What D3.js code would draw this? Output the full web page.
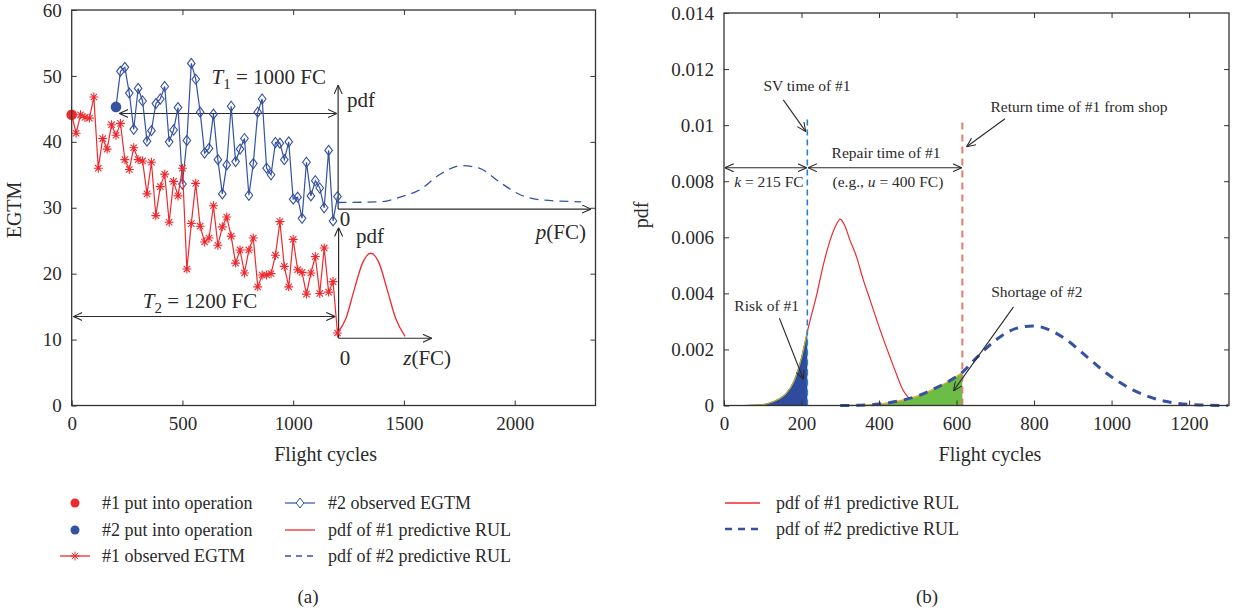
<!DOCTYPE html>
<html>
<head>
    <meta charset="utf-8">
    <script src="https://cdn.jsdelivr.net/npm/d3@7/dist/d3.min.js"></script>
    <style>
        body { margin: 0; background: #fff; }
        text { font-family: "Liberation Serif", "DejaVu Serif", serif; fill: #2a2a2a; }
    </style>
</head>
<body>
    <svg width="1236" height="612"></svg>
    <script>
        // ---- panel (a) data ----
        var cycles1 = [0, 20, 40, 60, 80, 100, 120, 140, 160, 180, 200, 220, 240, 260, 280, 300, 320, 340, 360, 380,
            400, 420, 440, 460, 480, 500, 520, 540, 560, 580, 600, 620, 640, 660, 680, 700, 720, 740, 760, 780,
            800, 820, 840, 860, 880, 900, 920, 940, 960, 980, 1000, 1020, 1040, 1060, 1080, 1100, 1120, 1140, 1160, 1180, 1200];
        var egtm1 = [44.1, 41.3, 44.1, 43.7, 43.6, 46.8, 36.0, 40.5, 38.9, 42.6, 41.0, 42.8, 37.3, 35.8, 39.1, 37.3, 37.1, 32.1, 36.9, 28.8,
            33.2, 35.1, 27.8, 34.0, 31.8, 36.0, 20.7, 27.6, 33.7, 27.2, 24.8, 25.4, 30.3, 24.3, 27.1, 28.6, 25.7, 21.6, 23.6, 20.1,
            23.6, 25.4, 18.0, 19.8, 19.8, 20.0, 22.8, 27.9, 21.1, 18.0, 25.2, 20.6, 20.2, 16.9, 20.1, 22.6, 17.0, 23.9, 17.2, 18.8, 11.0];
        var cycles2 = [200, 220, 240, 260, 280, 300, 320, 340, 360, 380, 400, 420, 440, 460, 480, 500, 520, 540, 560, 580,
            600, 620, 640, 660, 680, 700, 720, 740, 760, 780, 800, 820, 840, 860, 880, 900, 920, 940, 960, 980,
            1000, 1020, 1040, 1060, 1080, 1100, 1120, 1140, 1160, 1180, 1200];
        var egtm2 = [45.3, 50.7, 51.3, 47.4, 41.9, 48.1, 46.2, 40.1, 41.7, 45.8, 46.5, 48.4, 40.0, 41.8, 45.2, 33.6, 40.2, 51.9, 49.5, 44.5,
            38.3, 39.0, 44.2, 37.3, 32.1, 36.5, 45.4, 37.0, 38.9, 40.5, 31.9, 36.7, 44.5, 46.5, 36.0, 35.0, 39.9, 39.8, 37.3, 40.0,
            31.3, 31.6, 28.4, 36.9, 31.8, 34.1, 33.0, 30.0, 38.7, 28.0, 31.7];
        // schematic inset pdfs, drawn in panel (a) coordinates
        var insetP_x = [1200, 1390, 1490, 1570, 1660, 1760, 1840, 1940, 2030, 2120, 2300];
        var insetP_y = [30.8, 30.9, 31.7, 32.7, 35.0, 36.4, 36.0, 33.7, 31.9, 31.2, 30.9];
        var insetZ_x = [1200, 1238, 1275, 1313, 1350, 1388, 1425, 1463, 1505];
        var insetZ_y = [11.0, 13.2, 17.5, 21.6, 23.1, 21.6, 17.5, 13.2, 10.5];
        var xTicksA = [0, 500, 1000, 1500, 2000];
        var yTicksA = [0, 10, 20, 30, 40, 50, 60];
        var legendA = ["#1 put into operation", "#2 put into operation", "#1 observed EGTM",
            "#2 observed EGTM", "pdf of #1 predictive RUL", "pdf of #2 predictive RUL"];

        // ---- panel (b) data ----
        var pdf1_x = [50, 80, 100, 120, 140, 160, 180, 200, 215, 240, 256, 274, 288, 300, 312, 325, 342, 359, 377, 403,
            428, 446, 460, 475, 490, 510, 530];
        var pdf1_y = [0, 0.00001, 0.00003, 0.0001, 0.00022, 0.00042, 0.00085, 0.0017, 0.00263, 0.004, 0.005, 0.0059, 0.0064,
            0.00665, 0.0064, 0.0059, 0.0053, 0.0045, 0.00376, 0.00269, 0.00174, 0.00108, 0.0006, 0.0003, 0.00012, 0.00003, 0];
        var pdf2_x = [300, 350, 400, 450, 500, 543, 594, 617, 650, 702, 754, 798, 841, 884, 936, 987, 1056, 1142, 1228, 1300];
        var pdf2_y = [0, 0.00001, 0.00005, 0.00016, 0.00034, 0.0006, 0.00098, 0.00121, 0.00168, 0.00234, 0.00275, 0.00284,
            0.00269, 0.00234, 0.00174, 0.00115, 0.00055, 0.00014, 0.00002, 0];
        var svTime = 215, returnTime = 615, lineTop = 0.0102;
        var xTicksB = [0, 200, 400, 600, 800, 1000, 1200];
        var yTicksB = [0, 0.002, 0.004, 0.006, 0.008, 0.01, 0.012, 0.014];
        var yTickLabelsB = ["0", "0.002", "0.004", "0.006", "0.008", "0.01", "0.012", "0.014"];
        var legendB = ["pdf of #1 predictive RUL", "pdf of #2 predictive RUL"];

        var red = "#ee2a2e", blue = "#3451a2", ink = "#2a2a2a";

        var svg = d3.select("svg");
        var defs = svg.append("defs");
        defs.append("marker").attr("id", "arr")
            .attr("viewBox", "0 0 10 10").attr("refX", 10).attr("refY", 5)
            .attr("markerWidth", 9).attr("markerHeight", 9)
            .attr("markerUnits", "userSpaceOnUse").attr("orient", "auto-start-reverse")
            .append("path").attr("d", "M0,0.5L10,5L0,9.5")
            .attr("fill", "none").attr("stroke", ink).attr("stroke-width", 1.2);

        var xA = d3.scaleLinear().domain([0, 2365]).range([71.7, 595.5]);
        var yA = d3.scaleLinear().domain([0, 60]).range([405.5, 10]);
        var xB = d3.scaleLinear().domain([0, 1303]).range([724, 1229]);
        var yB = d3.scaleLinear().domain([0, 0.014]).range([405.5, 13]);

        function styleAxis(g, size) {
            g.select(".domain").remove();
            g.selectAll("line").attr("stroke", "#333").attr("stroke-width", 1);
            g.selectAll("text").attr("font-size", size).attr("fill", ink)
                .attr("font-family", '"Liberation Serif", serif');
        }

        function drawFrame(x, y, xt, yt, yFmt) {
            var g = svg.append("g");
            var x0 = x.range()[0], x1 = x.range()[1], y0 = y.range()[0], y1 = y.range()[1];
            g.append("g").attr("transform", "translate(0," + y0 + ")")
                .call(d3.axisBottom(x).tickValues(xt).tickSize(-5).tickSizeOuter(0).tickPadding(11).tickFormat(d3.format("d")))
                .call(styleAxis, 19);
            g.append("g").attr("transform", "translate(" + x0 + ",0)")
                .call(d3.axisLeft(y).tickValues(yt).tickSize(-5).tickSizeOuter(0).tickPadding(10).tickFormat(yFmt))
                .call(styleAxis, 19);
            g.append("g").attr("transform", "translate(0," + y1 + ")")
                .call(d3.axisTop(x).tickValues(xt.slice(1)).tickSize(-5).tickSizeOuter(0).tickFormat(""))
                .call(styleAxis, 19);
            g.append("g").attr("transform", "translate(" + x1 + ",0)")
                .call(d3.axisRight(y).tickValues(yt.slice(1, -1)).tickSize(-5).tickSizeOuter(0).tickFormat(""))
                .call(styleAxis, 19);
            g.append("rect").attr("x", x0).attr("y", y1).attr("width", x1 - x0).attr("height", y0 - y1)
                .attr("fill", "none").attr("stroke", "#333").attr("stroke-width", 1.3);
        }

        function arrow(g, pts, both, w) {
            var p = g.append("line")
                .attr("x1", pts[0]).attr("y1", pts[1]).attr("x2", pts[2]).attr("y2", pts[3])
                .attr("stroke", ink).attr("stroke-width", w || 1.2)
                .attr("marker-end", "url(#arr)");
            if (both) p.attr("marker-start", "url(#arr)");
            return p;
        }

        var starPath = "M-4.5,0L4.5,0M0,-4.5L0,4.5M-3.2,-3.2L3.2,3.2M-3.2,3.2L3.2,-3.2";
        var diamondPath = "M0,-5L3.8,0L0,5L-3.8,0Z";

        // ================= panel (a) =================
        var gA = svg.append("g");
        var lineA = d3.line().x(d => xA(d[0])).y(d => yA(d[1]));
        var s1 = cycles1.map((c, i) => [c, egtm1[i]]);
        var s2 = cycles2.map((c, i) => [c, egtm2[i]]);

        // inset axes
        arrow(gA, [xA(1203), yA(29.8), xA(1203), yA(48.6)]);
        arrow(gA, [xA(1203), yA(29.8), xA(2345), yA(29.8)]);
        arrow(gA, [xA(1205), yA(10.2), xA(1205), yA(27.0)]);
        arrow(gA, [xA(1205), yA(10.2), xA(1625), yA(10.2)]);
        // T1 and T2 spans
        arrow(gA, [xA(215), yA(44.3), xA(1198), yA(44.3)], true);
        arrow(gA, [xA(8), yA(13.5), xA(1190), yA(13.5)], true);

        gA.append("path").datum(insetP_x.map((c, i) => [c, insetP_y[i]]))
            .attr("d", lineA.curve(d3.curveMonotoneX)).attr("fill", "none")
            .attr("stroke", blue).attr("stroke-width", 1.3).attr("stroke-dasharray", "9,6");
        gA.append("path").datum(insetZ_x.map((c, i) => [c, insetZ_y[i]]))
            .attr("d", lineA.curve(d3.curveMonotoneX)).attr("fill", "none")
            .attr("stroke", red).attr("stroke-width", 1.3);
        lineA.curve(d3.curveLinear);

        gA.append("path").datum(s2).attr("d", lineA).attr("fill", "none")
            .attr("stroke", blue).attr("stroke-width", 1.2);
        gA.selectAll(".dia").data(s2.slice(1)).enter().append("path")
            .attr("d", diamondPath).attr("transform", d => "translate(" + xA(d[0]) + "," + yA(d[1]) + ")")
            .attr("fill", "none").attr("stroke", blue).attr("stroke-width", 1.1);
        gA.append("path").datum(s1).attr("d", lineA).attr("fill", "none")
            .attr("stroke", red).attr("stroke-width", 1.2);
        gA.selectAll(".star").data(s1.slice(1)).enter().append("path")
            .attr("d", starPath).attr("transform", d => "translate(" + xA(d[0]) + "," + yA(d[1]) + ")")
            .attr("fill", "none").attr("stroke", red).attr("stroke-width", 1.1);
        gA.append("circle").attr("cx", xA(s1[0][0])).attr("cy", yA(s1[0][1])).attr("r", 5.3).attr("fill", red);
        gA.append("circle").attr("cx", xA(s2[0][0])).attr("cy", yA(s2[0][1])).attr("r", 5.3).attr("fill", blue);

        drawFrame(xA, yA, xTicksA, yTicksA, d3.format("d"));

        // panel (a) labels
        var t1 = gA.append("text").attr("x", xA(631)).attr("y", yA(48.8)).attr("font-size", 21);
        t1.append("tspan").attr("font-style", "italic").text("T");
        t1.append("tspan").attr("font-size", 15).attr("dy", 5).text("1");
        t1.append("tspan").attr("dy", -5).text(" = 1000 FC");
        var t2 = gA.append("text").attr("x", xA(321)).attr("y", yA(14.8)).attr("font-size", 21);
        t2.append("tspan").attr("font-style", "italic").text("T");
        t2.append("tspan").attr("font-size", 15).attr("dy", 5).text("2");
        t2.append("tspan").attr("dy", -5).text(" = 1200 FC");
        gA.append("text").attr("x", xA(1243)).attr("y", yA(45.3)).attr("font-size", 21).text("pdf");
        gA.append("text").attr("x", xA(1284)).attr("y", yA(24.6)).attr("font-size", 21).text("pdf");
        gA.append("text").attr("x", xA(1210)).attr("y", yA(27.3)).attr("font-size", 21).text("0");
        gA.append("text").attr("x", xA(1210)).attr("y", yA(6.2)).attr("font-size", 21).text("0");
        var pl = gA.append("text").attr("x", xA(2322)).attr("y", yA(25.3)).attr("font-size", 21).attr("text-anchor", "end");
        pl.append("tspan").attr("font-style", "italic").text("p");
        pl.append("tspan").text("(FC)");
        var zl = gA.append("text").attr("x", xA(1497)).attr("y", yA(6.2)).attr("font-size", 21);
        zl.append("tspan").attr("font-style", "italic").text("z");
        zl.append("tspan").text("(FC)");

        svg.append("text").attr("x", (xA.range()[0] + xA.range()[1]) / 2 - 8).attr("y", 461)
            .attr("text-anchor", "middle").attr("font-size", 20).text("Flight cycles");
        svg.append("text").attr("transform", "translate(21,210) rotate(-90)")
            .attr("text-anchor", "middle").attr("font-size", 20).text("EGTM");

        // legend (a)
        var legA = svg.append("g").attr("font-size", 18);
        var rowsA = [503, 530, 556];
        legA.append("circle").attr("cx", 75).attr("cy", rowsA[0]).attr("r", 4.5).attr("fill", red);
        legA.append("circle").attr("cx", 75).attr("cy", rowsA[1]).attr("r", 4.5).attr("fill", blue);
        legA.append("line").attr("x1", 60).attr("x2", 90).attr("y1", rowsA[2]).attr("y2", rowsA[2])
            .attr("stroke", red).attr("stroke-width", 1.3);
        legA.append("path").attr("d", starPath).attr("transform", "translate(75," + rowsA[2] + ")")
            .attr("stroke", red).attr("fill", "none");
        legA.append("line").attr("x1", 285).attr("x2", 315).attr("y1", rowsA[0]).attr("y2", rowsA[0])
            .attr("stroke", blue).attr("stroke-width", 1.2);
        legA.append("path").attr("d", diamondPath).attr("transform", "translate(300," + rowsA[0] + ")")
            .attr("stroke", blue).attr("fill", "#fff");
        legA.append("line").attr("x1", 285).attr("x2", 315).attr("y1", rowsA[1]).attr("y2", rowsA[1])
            .attr("stroke", red).attr("stroke-width", 1.3);
        legA.append("line").attr("x1", 285).attr("x2", 315).attr("y1", rowsA[2]).attr("y2", rowsA[2])
            .attr("stroke", blue).attr("stroke-width", 1.3).attr("stroke-dasharray", "6,5");
        legendA.forEach(function (t, i) {
            legA.append("text").attr("x", i < 3 ? 102 : 328).attr("y", rowsA[i % 3]).attr("dy", "0.33em").text(t);
        });
        svg.append("text").attr("x", 308).attr("y", 603).attr("text-anchor", "middle").attr("font-size", 19).text("(a)");

        // ================= panel (b) =================
        var gB = svg.append("g");
        var lineB = d3.line().x(d => xB(d[0])).y(d => yB(d[1])).curve(d3.curveMonotoneX);
        var areaB = d3.area().x(d => xB(d[0])).y0(yB(0)).y1(d => yB(d[1])).curve(d3.curveMonotoneX);
        var p1 = pdf1_x.map((c, i) => [c, pdf1_y[i]]);
        var p2 = pdf2_x.map((c, i) => [c, pdf2_y[i]]);

        defs.append("clipPath").attr("id", "clipRisk").append("rect")
            .attr("x", xB(0)).attr("y", yB(0.014)).attr("width", xB(svTime) - xB(0)).attr("height", yB(0) - yB(0.014));
        defs.append("clipPath").attr("id", "clipShort").append("rect")
            .attr("x", xB(0)).attr("y", yB(0.014)).attr("width", xB(returnTime) - xB(0)).attr("height", yB(0) - yB(0.014));

        gB.append("path").datum(p1).attr("d", lineB).attr("fill", "none").attr("stroke", red).attr("stroke-width", 1.2);
        gB.append("path").datum(p1).attr("d", areaB).attr("clip-path", "url(#clipRisk)").attr("fill", "#2f4b9e");
        gB.append("path").datum(p1).attr("d", lineB).attr("clip-path", "url(#clipRisk)")
            .attr("fill", "none").attr("stroke", "#9db844").attr("stroke-width", 1.2);
        gB.append("path").datum(p2).attr("d", areaB).attr("clip-path", "url(#clipShort)").attr("fill", "#6cbd45");
        gB.append("path").datum(p2).attr("d", lineB).attr("clip-path", "url(#clipShort)")
            .attr("fill", "none").attr("stroke", "#eaa834").attr("stroke-width", 1.4);
        gB.append("path").datum(p2).attr("d", lineB).attr("fill", "none")
            .attr("stroke", blue).attr("stroke-width", 3).attr("stroke-dasharray", "9,7");

        gB.append("line").attr("x1", xB(svTime)).attr("x2", xB(svTime)).attr("y1", yB(0)).attr("y2", yB(lineTop))
            .attr("stroke", "#2b80c8").attr("stroke-width", 1.6).attr("stroke-dasharray", "6,4");
        gB.append("line").attr("x1", xB(returnTime)).attr("x2", xB(returnTime)).attr("y1", yB(0)).attr("y2", yB(lineTop))
            .attr("stroke", "#e0806a").attr("stroke-width", 2).attr("stroke-dasharray", "7,5");

        drawFrame(xB, yB, xTicksB, yTicksB, (d, i) => yTickLabelsB[i]);

        // span arrows and annotations
        arrow(gB, [xB(2), yB(0.00848), xB(svTime - 2), yB(0.00848)], true);
        arrow(gB, [xB(svTime + 2), yB(0.00848), xB(returnTime - 2), yB(0.00848)], true);
        arrow(gB, [xB(153), yB(0.0109), xB(211), yB(0.00977)], false, 1.1);
        arrow(gB, [xB(725), yB(0.01023), xB(626), yB(0.00923)], false, 1.1);
        arrow(gB, [xB(143), yB(0.00311), xB(205), yB(0.00093)], false, 1.1);
        arrow(gB, [xB(747), yB(0.00352), xB(592), yB(0.00052)], false, 1.1);

        var fsB = 15.5;
        gB.append("text").attr("x", xB(214)).attr("y", yB(0.01122)).attr("text-anchor", "middle").attr("font-size", fsB).text("SV time of #1");
        gB.append("text").attr("x", xB(916)).attr("y", yB(0.01048)).attr("text-anchor", "middle").attr("font-size", fsB).text("Return time of #1 from shop");
        gB.append("text").attr("x", xB(418)).attr("y", yB(0.00882)).attr("text-anchor", "middle").attr("font-size", fsB).text("Repair time of #1");
        var kl = gB.append("text").attr("x", xB(116)).attr("y", yB(0.0078)).attr("text-anchor", "middle").attr("font-size", fsB);
        kl.append("tspan").attr("font-style", "italic").text("k");
        kl.append("tspan").text(" = 215 FC");
        var ul = gB.append("text").attr("x", xB(423)).attr("y", yB(0.0078)).attr("text-anchor", "middle").attr("font-size", fsB);
        ul.append("tspan").text("(e.g., ");
        ul.append("tspan").attr("font-style", "italic").text("u");
        ul.append("tspan").text(" = 400 FC)");
        gB.append("text").attr("x", xB(110)).attr("y", yB(0.00337)).attr("text-anchor", "middle").attr("font-size", fsB).text("Risk of #1");
        gB.append("text").attr("x", xB(807)).attr("y", yB(0.00388)).attr("text-anchor", "middle").attr("font-size", fsB).text("Shortage of #2");

        svg.append("text").attr("x", 990).attr("y", 461).attr("text-anchor", "middle").attr("font-size", 20).text("Flight cycles");
        svg.append("text").attr("transform", "translate(648,215) rotate(-90)")
            .attr("text-anchor", "middle").attr("font-size", 20).text("pdf");

        // legend (b)
        var legB = svg.append("g").attr("font-size", 18);
        var rowsB = [503, 529];
        legB.append("line").attr("x1", 725).attr("x2", 760).attr("y1", rowsB[0]).attr("y2", rowsB[0])
            .attr("stroke", red).attr("stroke-width", 1.3);
        legB.append("line").attr("x1", 725).attr("x2", 760).attr("y1", rowsB[1]).attr("y2", rowsB[1])
            .attr("stroke", blue).attr("stroke-width", 2.5).attr("stroke-dasharray", "7,6");
        legendB.forEach(function (t, i) {
            legB.append("text").attr("x", 776).attr("y", rowsB[i]).attr("dy", "0.33em").text(t);
        });
        svg.append("text").attr("x", 927).attr("y", 603).attr("text-anchor", "middle").attr("font-size", 19).text("(b)");
    </script>
</body>
</html>
